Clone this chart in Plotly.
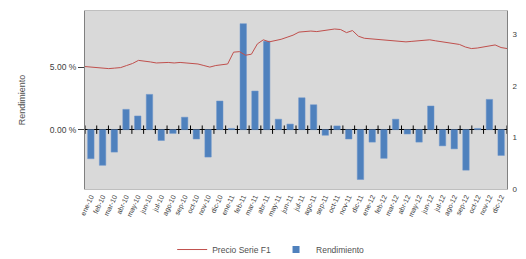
import plotly.graph_objects as go

meses = ["ene-10", "feb-10", "mar-10", "abr-10", "may-10", "jun-10", "jul-10", "ago-10", "sep-10",
         "oct-10", "nov-10", "dic-10", "ene-11", "feb-11", "mar-11", "abr-11", "may-11", "jun-11",
         "jul-11", "ago-11", "sep-11", "oct-11", "nov-11", "dic-11", "ene-12", "feb-12", "mar-12",
         "abr-12", "may-12", "jun-12", "jul-12", "ago-12", "sep-12", "oct-12", "nov-12", "dic-12"]

rendimiento = [-2.33, -2.86, -1.80, 1.63, 1.10, 2.83, -0.87, -0.30, 1.00, -0.75, -2.20, 2.30,
               0.10, 8.50, 3.10, 7.10, 0.84, 0.45, 2.56, 2.00, -0.45, 0.30, -0.75, -4.00,
               -1.00, -2.30, 0.84, -0.35, -1.00, 1.90, -1.30, -1.54, -3.25, 0.10, 2.43, -2.07]

precio = [2.38, 2.37, 2.37, 2.36, 2.34, 2.35, 2.36, 2.40, 2.44, 2.50, 2.49, 2.47,
          2.45, 2.46, 2.46, 2.45, 2.46, 2.45, 2.44, 2.43, 2.40, 2.37, 2.40, 2.41,
          2.43, 2.66, 2.67, 2.60, 2.62, 2.82, 2.90, 2.86, 2.88, 2.91, 2.95, 2.99,
          3.05, 3.06, 3.07, 3.06, 3.08, 3.10, 3.11, 3.10, 3.04, 3.08, 2.97, 2.93,
          2.92, 2.90, 2.89, 2.88, 2.88, 2.87, 2.86, 2.87, 2.88, 2.89, 2.90, 2.88,
          2.86, 2.85, 2.83, 2.81, 2.76, 2.73, 2.74, 2.76, 2.79, 2.80, 2.75, 2.73]

gris = "#505050"
font = dict(family="Liberation Sans, Arial, sans-serif", size=7, color=gris)

n = len(meses)
fig = go.Figure()

fig.add_trace(go.Bar(
    x=list(range(n)), y=rendimiento, name="Rendimiento", showlegend=False,
    marker=dict(color="#4f81bd", line=dict(color="#6f97cc", width=0.5)),
    xaxis="x", yaxis="y",
))

# category tick marks crossing the zero line
fig.add_trace(go.Scatter(
    x=[i - 0.5 for i in range(n + 1)], y=[0] * (n + 1), mode="markers",
    marker=dict(symbol="line-ns", size=6, line=dict(color="#000000", width=1)),
    showlegend=False, hoverinfo="skip", xaxis="x", yaxis="y",
))

fig.add_trace(go.Scatter(
    x=list(range(len(precio))), y=precio, name="Precio Serie F1", mode="lines",
    line=dict(color="#c0504d", width=1),
    xaxis="x2", yaxis="y2",
))

# legend entry for the bars with a small square swatch
fig.add_trace(go.Scatter(
    x=[None], y=[None], name="Rendimiento", mode="markers",
    marker=dict(symbol="square", size=7, color="#4f81bd"),
    xaxis="x", yaxis="y",
))

fig.update_layout(
    width=526, height=259,
    margin=dict(l=77, r=27, t=3, b=76),
    paper_bgcolor="#ffffff",
    plot_bgcolor="#d9d9d9",
    font=font,
    bargap=0.45,
    showlegend=True,
    legend=dict(orientation="h", x=0.44, xanchor="center", y=-0.34, yanchor="middle",
                font=dict(size=8.5, color=gris), itemwidth=30, traceorder="normal"),
    xaxis=dict(
        range=[-0.5, n - 0.5], tickmode="array", tickvals=list(range(n)), ticktext=meses,
        tickangle=-65, tickfont=dict(size=7, color="#404040"), showgrid=False, zeroline=False,
        showline=True, linecolor="#bfbfbf", linewidth=1, mirror=True, ticks="",
    ),
    xaxis2=dict(range=[0, len(precio) - 1], overlaying="x", visible=False),
    yaxis=dict(
        range=[-4.76, 9.52], tickmode="array", tickvals=[0, 5], ticktext=["0.00 %", "5.00 %"],
        showgrid=False, zeroline=True, zerolinecolor="#000000", zerolinewidth=1,
        showline=True, linecolor="#808080", linewidth=1, ticks="outside", ticklen=6,
        tickcolor="#404040", tickfont=dict(size=8.5, color="#404040"),
        title=dict(text="Rendimiento", font=dict(size=9, color=gris), standoff=22),
    ),
    yaxis2=dict(
        range=[0, 3.46], overlaying="y", side="right", tickmode="array", tickvals=[0, 1, 2, 3],
        showgrid=False, zeroline=False, showline=True, linecolor="#808080", linewidth=1,
        ticks="outside", ticklen=3, tickcolor="#ffffff", tickfont=dict(size=8, color="#404040"),
    ),
)

fig.add_annotation(text="Precio", xref="paper", yref="paper", x=1.0, xshift=22, y=0.5,
                   textangle=-90, showarrow=False, font=dict(size=7, color=gris))

fig.write_html("out.html")
